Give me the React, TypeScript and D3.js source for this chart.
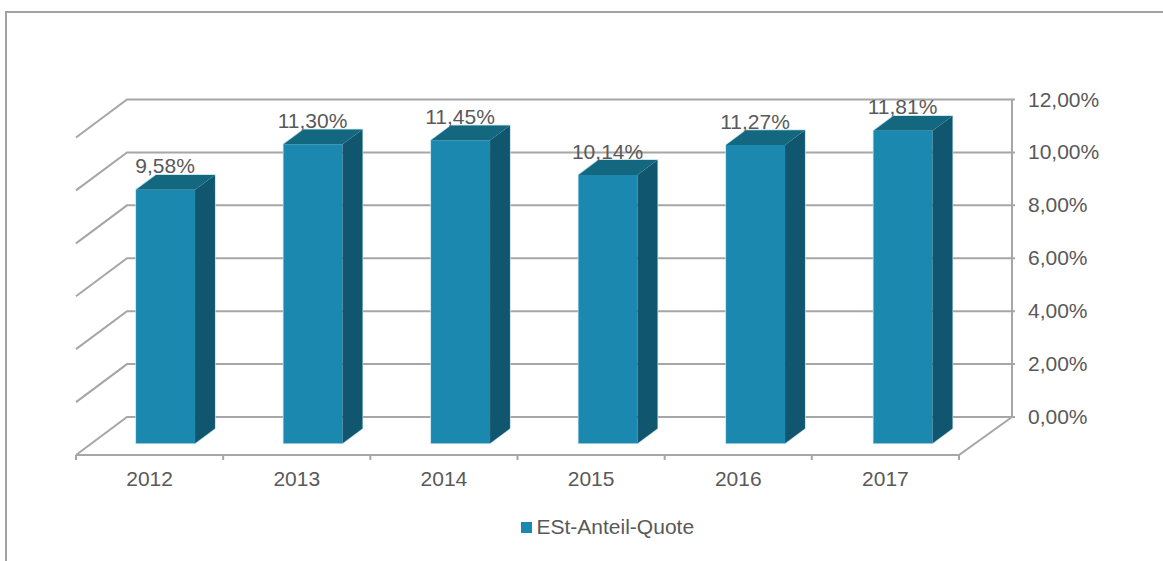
import React from "react";
import * as d3 from "d3";

const years = ["2012", "2013", "2014", "2015", "2016", "2017"];
const shares = [9.58, 11.3, 11.45, 10.14, 11.27, 11.81];
const valueLabels = ["9,58%", "11,30%", "11,45%", "10,14%", "11,27%", "11,81%"];
const axisValues = [0, 2, 4, 6, 8, 10, 12];
const axisLabels = ["0,00%", "2,00%", "4,00%", "6,00%", "8,00%", "10,00%", "12,00%"];
const seriesName = "ESt-Anteil-Quote";

const width = 1163;
const height = 561;
const gridColor = "#a6a6a6";
const textColor = "#595959";
const frontColor = "#1a88af";
const topColor = "#136880";
const sideColor = "#10566f";
const edgeColor = "#b9dde9";
const font = "'Liberation Sans', Arial, sans-serif";
const labelSize = 21;

// Oblique projection: depth 0 is the front floor edge, depth 1 the back wall.
const depthX = 51;
const depthY = -38;
const frontY = 455;

const xBand = d3.scaleBand<string>().domain(years).range([76, 959]);
const xBars = d3.scaleBand<string>().domain(years).range([76, 961]);
const yBack = d3.scaleLinear().domain([0, 12]).range([417, 99.5]);
const unit = yBack(0) - yBack(1);

const barFront = 0.31;
const barBack = 0.7;
const barWidth = 59;

// Screen position for a floor x, a value height and a depth.
const project = (x: number, value: number, depth: number): [number, number] => [
  x + depthX * depth,
  frontY + depthY * depth - value * unit,
];

const poly = (pts: [number, number][]) => d3.line()(pts) + "Z";
const barLeft = (year: string) => (xBars(year) as number) + (xBars.bandwidth() - barWidth) / 2;

export default function App() {
  return (
    <svg
      width={width}
      height={height}
      viewBox={`0 0 ${width} ${height}`}
      style={{ position: "absolute", left: 0, top: 0, background: "#fff" }}
      fontFamily={font}
    >
      {/* Outer chart frame */}
      <path d={`M6 ${height}V12H${width}`} fill="none" stroke="#a3a3a3" strokeWidth={2} />

      {/* Back wall, side wall and floor */}
      <g fill="none" stroke={gridColor} strokeWidth={2}>
        {axisValues.map((v) => (
          <path key={v} d={`M${76} ${yBack(v) + 38}L127 ${yBack(v)}H1015`} />
        ))}
        <path d={`M1012 ${yBack(12)}V${yBack(0)}`} />
        <path d={`M76 ${frontY}H959L1012 ${yBack(0)}`} />
        {[...years.map((y) => xBand(y) as number), 959].map((x) => (
          <path key={x} d={`M${x} ${frontY}v5`} />
        ))}
      </g>

      {/* Bars */}
      {years.map((year, i) => {
        const x0 = barLeft(year);
        const x1 = x0 + barWidth;
        const v = shares[i];
        const frontFace = [project(x0, 0, barFront), project(x1, 0, barFront), project(x1, v, barFront), project(x0, v, barFront)];
        const sideFace = [project(x1, 0, barFront), project(x1, 0, barBack), project(x1, v, barBack), project(x1, v, barFront)];
        const topFace = [project(x0, v, barFront), project(x1, v, barFront), project(x1, v, barBack), project(x0, v, barBack)];
        return (
          <g key={year} stroke="none">
            <path
              d={poly([frontFace[0], frontFace[1], sideFace[1], sideFace[2], topFace[3], topFace[0]])}
              fill="none"
              stroke={edgeColor}
              strokeWidth={1.5}
            />
            <path d={poly(frontFace)} fill={frontColor} />
            <path d={poly(sideFace)} fill={sideColor} />
            <path d={poly(topFace)} fill={topColor} />
          </g>
        );
      })}

      {/* Value labels above each bar */}
      {years.map((year, i) => {
        const x0 = barLeft(year);
        const [cx] = project(x0 + barWidth / 2, shares[i], barFront);
        const [, backTop] = project(x0, shares[i], barBack);
        return (
          <text key={year} x={cx - 0.5} y={backTop - 1.5} textAnchor="middle" fontSize={labelSize} fill={textColor}>
            {valueLabels[i]}
          </text>
        );
      })}

      {/* Category axis labels */}
      {years.map((year) => (
        <text
          key={year}
          x={(xBand(year) as number) + xBand.bandwidth() / 2}
          y={486}
          textAnchor="middle"
          fontSize={labelSize}
          fill={textColor}
        >
          {year}
        </text>
      ))}

      {/* Value axis labels */}
      {axisValues.map((v, i) => (
        <text key={v} x={1028} y={yBack(v) + 7} fontSize={labelSize} fill={textColor}>
          {axisLabels[i]}
        </text>
      ))}

      {/* Legend */}
      <rect x={521} y={522} width={11} height={11} fill={frontColor} />
      <text x={536.5} y={534} fontSize={labelSize} fill={textColor}>
        {seriesName}
      </text>
    </svg>
  );
}
